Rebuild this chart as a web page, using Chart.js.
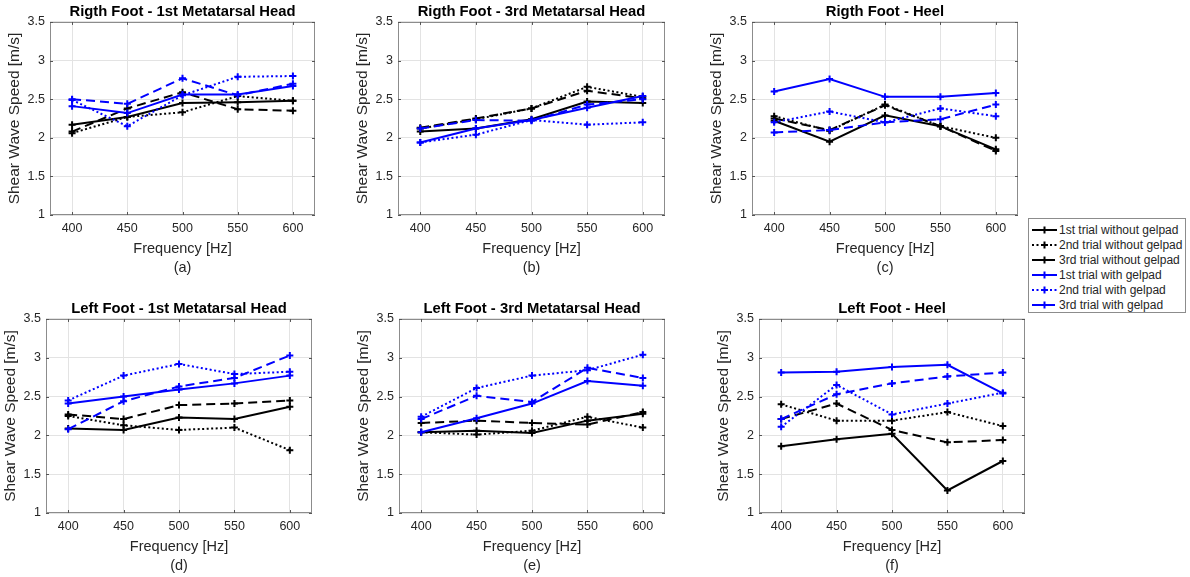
<!DOCTYPE html>
<html>
<head>
<meta charset="utf-8">
<title>Shear wave speed by frequency</title>
<script src="https://cdn.jsdelivr.net/npm/chart.js@4.4.1/dist/chart.umd.min.js"></script>
<style>
  body { margin: 0; width: 1190px; height: 577px; background: #fff; position: relative; overflow: hidden;
         font-family: "Liberation Sans", Arial, sans-serif; }
  canvas.panel { position: absolute; }
  #legend { position: absolute; left: 1028px; top: 218px; width: 158px; height: 95px; box-sizing: border-box;
            border: 1px solid #8c8c8c; background: #fff; padding-top: 3px; }
  #legend .row { height: 15px; display: flex; align-items: center; font-size: 12px; color: #262626; white-space: nowrap; }
  #legend svg { margin: 0 2px 0 3px; flex: none; }
</style>
</head>
<body>
<div id="legend"></div>
<script>
// ---- data ----
const freqs  = [400, 450, 500, 550, 600];
const yTicks = [1, 1.5, 2, 2.5, 3, 3.5];
const seriesNames = [
    '1st trial without gelpad', '2nd trial without gelpad', '3rd trial without gelpad',
    '1st trial with gelpad', '2nd trial with gelpad', '3rd trial with gelpad'
];
const panelTitles = [
    'Rigth Foot - 1st Metatarsal Head', 'Rigth Foot - 3rd Metatarsal Head', 'Rigth Foot - Heel',
    'Left Foot - 1st Metatarsal Head', 'Left Foot - 3rd Metatarsal Head', 'Left Foot - Heel'
];
const panelTags = ['(a)', '(b)', '(c)', '(d)', '(e)', '(f)'];

// one row per series, same order as seriesNames
const rightMT1 = [
    [2.17, 2.27, 2.45, 2.46, 2.48],
    [2.06, 2.27, 2.33, 2.54, 2.48],
    [2.08, 2.38, 2.59, 2.37, 2.35],
    [2.41, 2.32, 2.56, 2.56, 2.67],
    [2.49, 2.15, 2.55, 2.79, 2.80],
    [2.50, 2.44, 2.77, 2.55, 2.70]
];
const rightMT3 = [
    [2.08, 2.12, 2.24, 2.47, 2.45],
    [2.12, 2.24, 2.38, 2.66, 2.53],
    [2.13, 2.25, 2.38, 2.61, 2.51],
    [1.94, 2.12, 2.23, 2.39, 2.54],
    [1.94, 2.04, 2.23, 2.17, 2.20],
    [2.12, 2.23, 2.22, 2.43, 2.50]
];
const rightHeel = [
    [2.22, 1.95, 2.29, 2.15, 1.85],
    [2.28, 2.09, 2.43, 2.15, 2.00],
    [2.25, 2.10, 2.42, 2.15, 1.83],
    [2.60, 2.76, 2.53, 2.53, 2.58],
    [2.20, 2.34, 2.20, 2.38, 2.28],
    [2.07, 2.10, 2.20, 2.24, 2.43]
];
const leftMT1 = [
    [2.09, 2.07, 2.23, 2.21, 2.37],
    [2.25, 2.13, 2.07, 2.10, 1.81],
    [2.27, 2.21, 2.39, 2.41, 2.45],
    [2.41, 2.50, 2.59, 2.67, 2.77],
    [2.45, 2.77, 2.92, 2.79, 2.82],
    [2.08, 2.44, 2.63, 2.74, 3.03]
];
const leftMT3 = [
    [2.04, 2.06, 2.03, 2.19, 2.28],
    [2.04, 2.01, 2.06, 2.24, 2.10],
    [2.16, 2.19, 2.16, 2.14, 2.30],
    [2.04, 2.22, 2.41, 2.70, 2.64],
    [2.24, 2.61, 2.77, 2.84, 3.04],
    [2.21, 2.51, 2.43, 2.87, 2.74]
];
const leftHeel = [
    [1.86, 1.95, 2.02, 1.29, 1.67],
    [2.40, 2.19, 2.19, 2.30, 2.12],
    [2.21, 2.41, 2.07, 1.91, 1.94],
    [2.81, 2.82, 2.88, 2.91, 2.54],
    [2.11, 2.65, 2.27, 2.41, 2.55],
    [2.21, 2.53, 2.67, 2.76, 2.81]
];
const panelData = [rightMT1, rightMT3, rightHeel, leftMT1, leftMT3, leftHeel];

// ---- layout / styles ----
// plot-area boxes (left, top, right, bottom) in page pixels
const plotBoxes = [
    [50, 22, 315, 215], [398, 22, 665, 215], [752, 22, 1018, 215],
    [46, 319, 312, 513], [399, 319, 665, 513], [759, 319, 1025, 513]
];
const FONT = '"Liberation Sans", Arial, sans-serif';
const Y_AXIS_W = 50, X_AXIS_H = 62, TITLE_H = 22;
const BLACK = '#000000', BLUE = '#0000ff';
const lineStyles = [
    { color: BLACK, dash: [] }, { color: BLACK, dash: [2, 2.5] }, { color: BLACK, dash: [9, 5] },
    { color: BLUE,  dash: [] }, { color: BLUE,  dash: [2, 2.5] }, { color: BLUE,  dash: [9, 5] }
];

// box + inward tick marks, MATLAB style
const boxPlugin = {
    id: 'matlabBox',
    afterDraw(chart) {
        const { ctx, chartArea: a, scales } = chart;
        ctx.save();
        ctx.strokeStyle = '#8c8c8c';
        ctx.lineWidth = 1;
        ctx.strokeRect(Math.round(a.left) + 0.5, Math.round(a.top) + 0.5,
                       Math.round(a.right - a.left) - 1, Math.round(a.bottom - a.top) - 1);
        ctx.strokeStyle = '#555';
        ctx.beginPath();
        scales.x.ticks.forEach(t => {
            const px = Math.round(scales.x.getPixelForValue(t.value)) + 0.5;
            ctx.moveTo(px, a.bottom); ctx.lineTo(px, a.bottom - 3);
            ctx.moveTo(px, a.top);    ctx.lineTo(px, a.top + 3);
        });
        scales.y.ticks.forEach(t => {
            const py = Math.round(scales.y.getPixelForValue(t.value)) + 0.5;
            ctx.moveTo(a.left, py);  ctx.lineTo(a.left + 3, py);
            ctx.moveTo(a.right, py); ctx.lineTo(a.right - 3, py);
        });
        ctx.stroke();
        ctx.restore();
    }
};

function makePanel(i) {
    const [L, T, R, B] = plotBoxes[i];
    const canvas = document.createElement('canvas');
    canvas.className = 'panel';
    const w = (R - L) + Y_AXIS_W + 6;
    const h = TITLE_H + (B - T) + X_AXIS_H;
    canvas.width = w; canvas.height = h;
    canvas.style.left = (L - Y_AXIS_W) + 'px';
    canvas.style.top  = (T - TITLE_H) + 'px';
    canvas.style.width = w + 'px'; canvas.style.height = h + 'px';
    document.body.appendChild(canvas);

    const datasets = panelData[i].map((vals, k) => ({
        label: seriesNames[k],
        data: freqs.map((f, j) => ({ x: f, y: vals[j] })),
        borderColor: lineStyles[k].color,
        backgroundColor: lineStyles[k].color,
        borderDash: lineStyles[k].dash,
        borderWidth: 2,
        pointStyle: 'cross',
        pointRadius: 3.5,
        pointBorderWidth: 2,
        tension: 0,
        order: 6 - k
    }));

    new Chart(canvas, {
        type: 'line',
        data: { datasets },
        options: {
            responsive: false,
            animation: false,
            devicePixelRatio: 1,
            layout: { padding: { left: 0, right: 6, top: 0, bottom: 0 } },
            plugins: {
                legend: { display: false },
                tooltip: { enabled: false },
                title: {
                    display: true, text: panelTitles[i], fullSize: false, color: '#000',
                    font: { family: FONT, size: 14.8, weight: 'bold' },
                    padding: { top: 3.2, bottom: 1 }
                }
            },
            scales: {
                x: {
                    type: 'linear', min: 380, max: 620,
                    afterBuildTicks: s => { s.ticks = freqs.map(v => ({ value: v })); },
                    afterFit: s => { s.height = X_AXIS_H; },
                    grid: { color: '#e3e3e3', drawTicks: false },
                    border: { display: false },
                    ticks: { color: '#262626', padding: 6.5, font: { family: FONT, size: 12.5 },
                             callback: v => String(v) },
                    title: {
                        display: true, text: ['Frequency [Hz]', panelTags[i]], color: '#262626',
                        font: { family: FONT, size: 14.5, lineHeight: 1.3 }, padding: { top: 0, bottom: 0 }
                    }
                },
                y: {
                    min: 1, max: 3.5,
                    afterBuildTicks: s => { s.ticks = yTicks.map(v => ({ value: v })); },
                    afterFit: s => { s.width = Y_AXIS_W; },
                    grid: { color: '#e3e3e3', drawTicks: false },
                    border: { display: false },
                    ticks: { color: '#262626', padding: 5, font: { family: FONT, size: 12.5 },
                             callback: v => String(v) },
                    title: {
                        display: true, text: 'Shear Wave Speed [m/s]', color: '#262626',
                        font: { family: FONT, size: 15.5 }, padding: { top: 5.5, bottom: 0 }
                    }
                }
            }
        },
        plugins: [boxPlugin]
    });
}

for (let i = 0; i < 6; i++) makePanel(i);

// legend (shared by all panels)
const legendEl = document.getElementById('legend');
seriesNames.forEach((name, k) => {
    const st = lineStyles[k];
    const row = document.createElement('div');
    row.className = 'row';
    row.innerHTML =
        `<svg width="25" height="10" viewBox="0 0 25 10">
           <line x1="0" y1="5" x2="25" y2="5" stroke="${st.color}" stroke-width="2" stroke-dasharray="${st.dash.join(' ') || 'none'}"/>
           <path d="M12.5 1.5 V8.5 M9 5 H16" stroke="${st.color}" stroke-width="2"/>
         </svg><span>${name}</span>`;
    legendEl.appendChild(row);
});
</script>
</body>
</html>
